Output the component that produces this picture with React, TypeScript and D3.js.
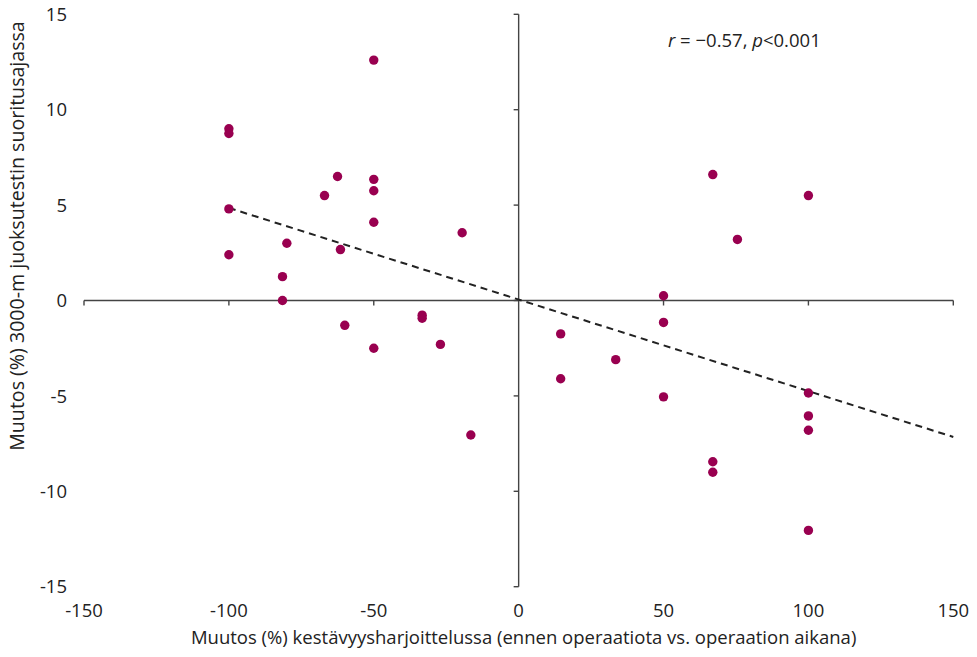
import React from "react";
import * as d3 from "d3";

const xValues = [-100, -100, -100, -100, -80, -81.5, -81.5, -67, -62.5, -61.5, -60, -50, -50, -50, -50, -50, -33.3, -33.3, -27, -19.5, -16.5, 14.5, 14.5, 33.5, 50, 50, 50, 67, 67, 67, 75.5, 100, 100, 100, 100, 100];
const yValues = [9.0, 8.75, 4.8, 2.4, 3.0, 1.25, 0, 5.5, 6.5, 2.67, -1.3, 12.6, 6.35, 5.75, 4.1, -2.5, -0.77, -0.93, -2.3, 3.55, -7.05, -1.75, -4.1, -3.1, 0.25, -1.15, -5.05, 6.6, -8.45, -9.0, 3.2, 5.5, -4.85, -6.05, -6.8, -12.05];
const xTicks = [-150, -100, -50, 0, 50, 100, 150];
const yTicks = [-15, -10, -5, 0, 5, 10, 15];
const trendX = [-100, 150];
const trendY = [4.85, -7.15];

const W = 977;
const H = 657;
const FONT = "'Open Sans', 'Noto Sans', sans-serif";
const DOT = "#990050";
const AXIS = "#444";
const FS = 18.5;

export default function App() {
  const x = d3.scaleLinear().domain([-150, 150]).range([84, 953.3]);
  const y = d3.scaleLinear().domain([-15, 15]).range([586.7, 14.3]);
  const line = d3
    .line<number>()
    .x((d) => x(d))
    .y((_, i) => y(trendY[i]));

  const points = xValues.map((v, i) => ({ x: v, y: yValues[i] }));
  const fmt = (v: number) => (v < 0 ? "-" + Math.abs(v) : String(v));

  return (
    <svg
      width={W}
      height={H}
      style={{ position: "absolute", left: 0, top: 0, background: "#fff" }}
      fontFamily={FONT}
    >
      <line x1={x(-150)} x2={x(150)} y1={y(0)} y2={y(0)} stroke={AXIS} strokeWidth={1.4} />
      {xTicks.map((t) =>
        t === 0 ? null : (
          <line key={"xt" + t} x1={x(t)} x2={x(t)} y1={y(0)} y2={y(0) + 5} stroke={AXIS} strokeWidth={1.4} />
        )
      )}
      <line x1={x(0)} x2={x(0)} y1={y(15)} y2={y(-15)} stroke={AXIS} strokeWidth={1.4} />
      {yTicks.map((t) => (
        <line key={"yt" + t} x1={x(0) - 5} x2={x(0)} y1={y(t)} y2={y(t)} stroke={AXIS} strokeWidth={1.4} />
      ))}
      {xTicks.map((t) => (
        <text key={"xl" + t} x={x(t)} y={617} textAnchor="middle" fontSize={FS} fill="#222">
          {fmt(t)}
        </text>
      ))}
      {yTicks.map((t) => (
        <text key={"yl" + t} x={67} y={y(t)} dy="0.36em" textAnchor="end" fontSize={FS} fill="#222">
          {fmt(t)}
        </text>
      ))}
      <path d={line(trendX) || ""} fill="none" stroke="#222" strokeWidth={2} strokeDasharray="7,5" />
      {points.map((p, i) => (
        <circle key={i} cx={x(p.x)} cy={y(p.y)} r={4.7} fill={DOT} />
      ))}
      <text x={668} y={47} fontSize={FS} fill="#222">
        <tspan fontStyle="italic">r</tspan>
        <tspan> = −0.57, </tspan>
        <tspan fontStyle="italic">p</tspan>
        <tspan>&lt;0.001</tspan>
      </text>
      <text x={x(0) + 5} y={644} textAnchor="middle" fontSize={FS} fill="#222">
        Muutos (%) kestävyysharjoittelussa (ennen operaatiota vs. operaation aikana)
      </text>
      <text
        transform={`translate(24, ${236}) rotate(-90)`}
        textAnchor="middle"
        fontSize={19.6}
        fill="#222"
      >
        Muutos (%) 3000-m juoksutestin suoritusajassa
      </text>
    </svg>
  );
}
